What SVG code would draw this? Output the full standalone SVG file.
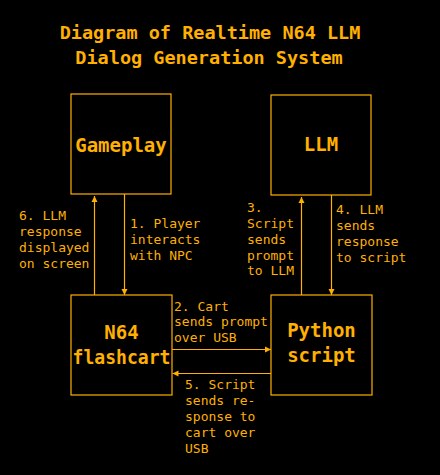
<svg xmlns="http://www.w3.org/2000/svg" width="440" height="475" viewBox="0 0 440 475">
<style>
.box{fill:#000;stroke:#FFB000;stroke-width:1.2}
.t{font-family:"DejaVu Sans Mono","Liberation Mono",monospace;font-weight:bold;fill:#FFB000;text-anchor:middle}
.n{font-family:"DejaVu Sans Mono","Liberation Mono",monospace;font-weight:bold;font-size:19px;fill:#FFB000;text-anchor:middle}
.l{font-family:"DejaVu Sans Mono","Liberation Mono",monospace;font-size:13px;fill:#FFB000}
.c{stroke:#FFB000;stroke-width:1.2;fill:none}
</style>
<defs>
<marker id="ah" viewBox="0 0 10 10" refX="10" refY="5" markerWidth="6" markerHeight="10" markerUnits="userSpaceOnUse" orient="auto">
<path d="M0,0 L10,5 L0,10 z" fill="#FFB000"/>
</marker>
</defs>
<rect width="440" height="475" fill="#000"/>
<g id="title">
<text class="t" x="210" y="39" font-size="18.5px">Diagram of Realtime N64 LLM</text>
<text class="t" x="209" y="64" font-size="18.5px">Dialog Generation System</text>
</g>
<g id="connectors">
<line class="c" x1="124.5" y1="194" x2="124.5" y2="295" marker-end="url(#ah)"/>
<line class="c" x1="94.5" y1="295" x2="94.5" y2="196" marker-end="url(#ah)"/>
<line class="c" x1="301.5" y1="295" x2="301.5" y2="197" marker-end="url(#ah)"/>
<line class="c" x1="331.5" y1="195" x2="331.5" y2="295" marker-end="url(#ah)"/>
<line class="c" x1="172" y1="349.5" x2="271" y2="349.5" marker-end="url(#ah)"/>
<line class="c" x1="271" y1="373.5" x2="172.5" y2="373.5" marker-end="url(#ah)"/>
<text class="l" x="130" y="228">1. Player</text>
<text class="l" x="130" y="244">interacts</text>
<text class="l" x="130" y="260">with NPC</text>
<text class="l" x="19" y="220">6. LLM</text>
<text class="l" x="19" y="236">response</text>
<text class="l" x="19" y="252">displayed</text>
<text class="l" x="19" y="268">on screen</text>
<text class="l" x="247" y="212">3.</text>
<text class="l" x="247" y="228">Script</text>
<text class="l" x="247" y="244">sends</text>
<text class="l" x="247" y="260">prompt</text>
<text class="l" x="247" y="275">to LLM</text>
<text class="l" x="336" y="214">4. LLM</text>
<text class="l" x="336" y="230">sends</text>
<text class="l" x="336" y="246">response</text>
<text class="l" x="336" y="262">to script</text>
<text class="l" x="174" y="311">2. Cart</text>
<text class="l" x="174" y="326">sends prompt</text>
<text class="l" x="174" y="342">over USB</text>
<text class="l" x="185" y="389">5. Script</text>
<text class="l" x="185" y="405">sends re-</text>
<text class="l" x="185" y="421">sponse to</text>
<text class="l" x="185" y="437">cart over</text>
<text class="l" x="185" y="453">USB</text>
</g>
<g id="gameplay">
<rect class="box" x="71" y="94" width="100" height="100"/>
<text class="n" x="121" y="152">Gameplay</text>
</g>
<g id="llm">
<rect class="box" x="271" y="95" width="100" height="100"/>
<text class="n" x="321" y="151">LLM</text>
</g>
<g id="n64">
<rect class="box" x="71" y="295" width="101" height="100"/>
<text class="n" x="121.5" y="339">N64</text>
<text class="n" x="121.5" y="364" textLength="98" lengthAdjust="spacingAndGlyphs">flashcart</text>
</g>
<g id="python">
<rect class="box" x="271" y="295" width="101" height="100"/>
<text class="n" x="321.5" y="337">Python</text>
<text class="n" x="321.5" y="362">script</text>
</g>
</svg>
